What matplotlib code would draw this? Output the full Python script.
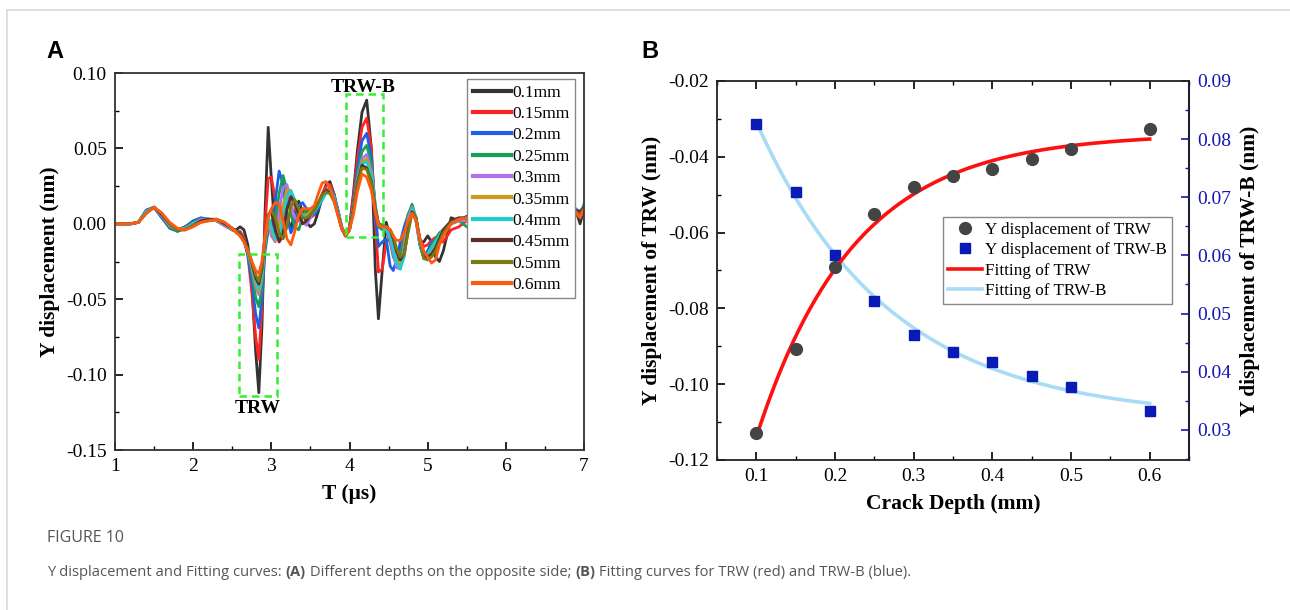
import numpy as np
import matplotlib
matplotlib.use("Agg")
import matplotlib.pyplot as plt
from matplotlib.lines import Line2D
from matplotlib.patches import Rectangle
from matplotlib.ticker import MultipleLocator

SERIF = "Liberation Serif"
SANS = "Liberation Sans"

# ---------------- panel A: time signals ----------------
depth_labels = ["0.1mm", "0.15mm", "0.2mm", "0.25mm", "0.3mm",
                "0.35mm", "0.4mm", "0.45mm", "0.5mm", "0.6mm"]
depth_colors = ["#333333", "#ff2424", "#1f5fe6", "#17a055", "#b070ee",
                "#c99a1c", "#1ccfcf", "#5c2e2a", "#7a7a12", "#ff5a12"]

t_us = [1.0, 1.1, 1.2, 1.3, 1.4, 1.5, 1.6, 1.7, 1.8, 1.9, 2.0, 2.1, 2.2, 2.3, 2.4, 2.5,
        2.55, 2.6, 2.65, 2.7, 2.75, 2.8, 2.84, 2.88, 2.92, 2.96,
        3.0, 3.05, 3.1, 3.15, 3.2, 3.25, 3.3, 3.35, 3.4, 3.45,
        3.5, 3.55, 3.6, 3.65, 3.7, 3.75, 3.8, 3.85, 3.9, 3.95,
        4.0, 4.05, 4.1, 4.16, 4.22, 4.28, 4.33, 4.37, 4.42, 4.47,
        4.52, 4.56, 4.6, 4.65, 4.7, 4.75, 4.8, 4.85, 4.9, 4.95,
        5.0, 5.05, 5.1, 5.15, 5.2, 5.3, 5.4, 5.5, 5.6, 6.0,
        6.5, 6.85, 6.9, 6.95, 7.0]

y_010 = [0, 0, 0, 0.001, 0.009, 0.011, 0.004, -0.002, -0.004, -0.002, 0.001, 0.003, 0.003, 0.002, 0.000, -0.004,
         -0.004, -0.002, -0.004, -0.014, -0.040, -0.085, -0.112, -0.068, 0.008, 0.064,
         0.030, -0.008, 0.002, 0.012, 0.006, -0.004, 0.008, 0.015, 0.008, 0.001,
         -0.002, 0.000, 0.008, 0.018, 0.026, 0.028, 0.020, 0.008, -0.003, -0.008,
         -0.002, 0.020, 0.048, 0.074, 0.082, 0.050, -0.030, -0.063, -0.030, 0.001,
         -0.010, -0.020, -0.024, -0.024, -0.012, 0.002, 0.010, 0.004, -0.012, -0.012,
         -0.008, -0.012, -0.022, -0.025, -0.018, 0.004, 0.002, 0.005, 0.000, 0.002,
         0.004, 0.008, 0.008, 0.000, 0.010]
y_015 = [0, 0, 0, 0.001, 0.008, 0.011, 0.005, -0.002, -0.004, -0.002, 0.001, 0.003, 0.003, 0.002, -0.001, -0.004,
         -0.005, -0.005, -0.009, -0.021, -0.045, -0.075, -0.090, -0.055, 0.000, 0.030,
         0.031, 0.016, -0.012, -0.008, 0.010, 0.018, 0.012, 0.006, 0.010, 0.008,
         0.004, 0.006, 0.012, 0.020, 0.025, 0.026, 0.020, 0.008, -0.003, -0.008,
         -0.003, 0.018, 0.042, 0.064, 0.070, 0.050, 0.002, -0.032, -0.030, -0.012,
         -0.010, -0.016, -0.020, -0.016, -0.008, 0.004, 0.010, 0.003, -0.010, -0.015,
         -0.014, -0.011, -0.009, -0.012, -0.012, -0.004, -0.002, 0.002, -0.001, 0.002,
         0.004, 0.010, 0.009, 0.006, 0.011]
y_020 = [0, 0, 0, 0.001, 0.009, 0.011, 0.004, -0.003, -0.005, -0.002, 0.002, 0.004, 0.003, 0.002, -0.001, -0.004,
         -0.005, -0.006, -0.011, -0.021, -0.038, -0.060, -0.069, -0.050, -0.018, -0.004,
         -0.004, 0.015, 0.035, 0.026, 0.005, -0.006, 0.000, 0.012, 0.014, 0.010,
         0.006, 0.006, 0.010, 0.016, 0.022, 0.024, 0.020, 0.010, -0.002, -0.008,
         -0.004, 0.014, 0.036, 0.055, 0.060, 0.044, 0.008, -0.015, -0.012, -0.010,
         -0.028, -0.031, -0.024, -0.012, -0.002, 0.006, 0.011, 0.002, -0.014, -0.022,
         -0.018, -0.012, -0.016, -0.012, -0.006, 0.000, 0.003, 0.004, 0.001, 0.002,
         0.004, 0.010, 0.009, 0.007, 0.012]
y_025 = [0, 0, 0, 0.001, 0.008, 0.011, 0.005, -0.002, -0.005, -0.003, 0.001, 0.003, 0.003, 0.002, -0.001, -0.004,
         -0.005, -0.007, -0.011, -0.019, -0.032, -0.049, -0.055, -0.042, -0.015, -0.002,
         0.002, 0.002, 0.020, 0.032, 0.022, 0.006, -0.002, -0.004, 0.004, 0.010,
         0.008, 0.008, 0.012, 0.016, 0.021, 0.023, 0.019, 0.009, -0.002, -0.008,
         -0.004, 0.012, 0.032, 0.048, 0.052, 0.040, 0.012, -0.002, -0.004, -0.004,
         -0.012, -0.022, -0.026, -0.022, -0.008, 0.006, 0.013, 0.004, -0.014, -0.023,
         -0.022, -0.014, -0.010, -0.006, -0.004, 0.000, 0.002, -0.002, -0.005, 0.002,
         0.004, 0.008, 0.007, 0.006, 0.013]
y_030 = [0, 0, 0, 0.001, 0.008, 0.011, 0.005, -0.001, -0.004, -0.003, 0.000, 0.003, 0.003, 0.002, -0.001, -0.004,
         -0.005, -0.007, -0.011, -0.018, -0.029, -0.042, -0.047, -0.036, -0.012, 0.002,
         -0.008, -0.012, 0.008, 0.024, 0.026, 0.014, 0.004, 0.002, 0.001, -0.001,
         0.004, 0.009, 0.013, 0.017, 0.021, 0.022, 0.018, 0.009, -0.002, -0.008,
         -0.004, 0.011, 0.029, 0.043, 0.046, 0.035, 0.012, 0.000, -0.002, -0.004,
         -0.010, -0.020, -0.029, -0.030, -0.014, 0.004, 0.011, 0.004, -0.012, -0.021,
         -0.020, -0.016, -0.012, -0.008, -0.004, 0.000, 0.002, 0.002, -0.002, 0.002,
         0.004, 0.010, 0.010, 0.008, 0.012]
y_035 = [0, 0, 0, 0.001, 0.008, 0.011, 0.006, -0.001, -0.004, -0.003, 0.000, 0.002, 0.003, 0.002, 0.000, -0.004,
         -0.005, -0.007, -0.011, -0.018, -0.028, -0.040, -0.045, -0.034, -0.010, 0.004,
         -0.004, -0.011, -0.002, 0.012, 0.023, 0.022, 0.012, 0.006, 0.006, 0.006,
         0.008, 0.010, 0.014, 0.018, 0.022, 0.022, 0.017, 0.008, -0.002, -0.008,
         -0.004, 0.011, 0.028, 0.041, 0.043, 0.033, 0.011, 0.000, -0.001, -0.003,
         -0.006, -0.014, -0.024, -0.028, -0.018, 0.002, 0.010, 0.004, -0.012, -0.022,
         -0.022, -0.018, -0.014, -0.008, -0.004, 0.001, 0.003, 0.003, 0.000, 0.002,
         0.004, 0.009, 0.008, 0.007, 0.011]
y_040 = [0, 0, 0, 0.001, 0.008, 0.011, 0.006, 0.000, -0.004, -0.003, 0.000, 0.002, 0.003, 0.003, 0.000, -0.003,
         -0.005, -0.007, -0.011, -0.018, -0.027, -0.038, -0.043, -0.032, -0.009, 0.005,
         -0.002, -0.010, -0.010, 0.004, 0.018, 0.022, 0.016, 0.010, 0.006, 0.004,
         0.006, 0.008, 0.012, 0.016, 0.020, 0.021, 0.017, 0.008, -0.002, -0.008,
         -0.004, 0.010, 0.027, 0.040, 0.041, 0.032, 0.011, 0.000, -0.001, -0.003,
         -0.008, -0.016, -0.026, -0.030, -0.022, -0.002, 0.010, 0.004, -0.012, -0.022,
         -0.020, -0.016, -0.012, -0.008, -0.004, 0.001, 0.003, 0.004, 0.000, 0.002,
         0.004, 0.010, 0.009, 0.008, 0.012]
y_045 = [0, 0, 0, 0.001, 0.007, 0.011, 0.006, 0.000, -0.004, -0.004, -0.001, 0.002, 0.003, 0.003, 0.000, -0.003,
         -0.005, -0.007, -0.011, -0.017, -0.026, -0.036, -0.040, -0.030, -0.008, 0.006,
         0.008, -0.004, -0.012, -0.006, 0.010, 0.018, 0.014, 0.006, 0.000, 0.002,
         0.006, 0.009, 0.014, 0.019, 0.022, 0.021, 0.016, 0.007, -0.003, -0.008,
         -0.004, 0.010, 0.027, 0.039, 0.037, 0.028, 0.010, 0.000, -0.001, -0.002,
         -0.004, -0.010, -0.018, -0.024, -0.020, -0.004, 0.008, 0.004, -0.010, -0.022,
         -0.022, -0.020, -0.016, -0.010, -0.004, 0.002, 0.004, 0.004, 0.001, 0.002,
         0.004, 0.009, 0.009, 0.008, 0.011]
y_050 = [0, 0, 0, 0.001, 0.007, 0.011, 0.007, 0.000, -0.004, -0.004, -0.001, 0.001, 0.002, 0.003, 0.001, -0.003,
         -0.005, -0.008, -0.012, -0.017, -0.025, -0.034, -0.038, -0.028, -0.008, 0.006,
         0.009, 0.004, -0.006, -0.010, -0.002, 0.012, 0.016, 0.010, 0.004, 0.004,
         0.006, 0.009, 0.014, 0.019, 0.021, 0.020, 0.015, 0.006, -0.003, -0.008,
         -0.004, 0.009, 0.026, 0.037, 0.036, 0.027, 0.009, 0.000, -0.001, -0.002,
         -0.004, -0.008, -0.016, -0.022, -0.020, -0.006, 0.007, 0.004, -0.010, -0.023,
         -0.024, -0.022, -0.018, -0.012, -0.006, 0.001, 0.003, 0.004, 0.001, 0.002,
         0.004, 0.009, 0.008, 0.006, 0.010]
y_060 = [0, 0, 0, 0.001, 0.007, 0.011, 0.007, 0.001, -0.003, -0.004, -0.002, 0.001, 0.002, 0.003, 0.001, -0.003,
         -0.006, -0.008, -0.012, -0.018, -0.025, -0.031, -0.033, -0.025, -0.008, 0.004,
         0.010, 0.014, 0.013, 0.002, -0.010, -0.014, -0.005, 0.006, 0.010, 0.010,
         0.010, 0.012, 0.020, 0.027, 0.028, 0.024, 0.016, 0.006, -0.003, -0.008,
         -0.004, 0.006, 0.021, 0.033, 0.031, 0.022, 0.008, -0.001, -0.002, -0.002,
         -0.004, -0.008, -0.011, -0.011, -0.006, 0.002, 0.007, 0.002, -0.010, -0.018,
         -0.022, -0.026, -0.024, -0.014, -0.008, 0.000, 0.003, 0.004, 0.001, 0.002,
         0.004, 0.009, 0.007, 0.004, 0.010]

signals = [y_010, y_015, y_020, y_025, y_030, y_035, y_040, y_045, y_050, y_060]

# ---------------- panel B: peak values vs crack depth ----------------
crack_depth = [0.1, 0.15, 0.2, 0.25, 0.3, 0.35, 0.4, 0.45, 0.5, 0.6]
trw_disp = [-0.1128, -0.0906, -0.0692, -0.0551, -0.0480, -0.0450, -0.0431, -0.0407, -0.0380, -0.0327]
trwb_disp = [0.0826, 0.0709, 0.0601, 0.0522, 0.0463, 0.0434, 0.0417, 0.0392, 0.0373, 0.0333]


def exp_fit(x, y):
    # y = y0 + a*exp(-x/tau), tau scanned, y0/a by least squares
    x = np.asarray(x)
    y = np.asarray(y)
    best = None
    for tau in np.linspace(0.02, 1.0, 981):
        M = np.column_stack([np.ones_like(x), np.exp(-x / tau)])
        coef = np.linalg.lstsq(M, y, rcond=None)[0]
        err = np.sum((M @ coef - y) ** 2)
        if best is None or err < best[0]:
            best = (err, tau, coef)
    _, tau, coef = best
    return lambda xx: coef[0] + coef[1] * np.exp(-np.asarray(xx) / tau)


TICK_FS = 14
LABEL_FS = 15.5

fig = plt.figure(figsize=(12.9, 6.1), dpi=100)

# page frame
fig.add_artist(Line2D([7 / 1290, 1], [1 - 10 / 610, 1 - 10 / 610], color="#d9d9d9", lw=1.2))
fig.add_artist(Line2D([7 / 1290, 7 / 1290], [0, 1 - 10 / 610], color="#d9d9d9", lw=1.2))

# ---- panel A ----
ax = fig.add_axes([115 / 1290, 1 - 450 / 610, 469 / 1290, 377 / 610])
for y, lab, col in zip(signals, depth_labels, depth_colors):
    ax.plot(t_us, y, color=col, lw=2.0, label=lab, solid_joinstyle="round")

ax.add_patch(Rectangle((2.58, -0.114), 0.49, 0.094, fill=False, ec="#33ee33",
                       ls=(0, (3, 2)), lw=1.8, zorder=5))
ax.add_patch(Rectangle((3.96, -0.0087), 0.47, 0.0947, fill=False, ec="#33ee33",
                       ls=(0, (3, 2)), lw=1.8, zorder=5))
ax.text(2.83, -0.1225, "TRW", family=SERIF, weight="bold", fontsize=14,
        ha="center", va="center")
ax.text(4.17, 0.0905, "TRW-B", family=SERIF, weight="bold", fontsize=14,
        ha="center", va="center")

ax.set_xlim(1, 7)
ax.set_ylim(-0.15, 0.10)
ax.set_xticks([1, 2, 3, 4, 5, 6, 7])
ax.set_yticks([-0.15, -0.10, -0.05, 0.0, 0.05, 0.10])
ax.set_yticklabels(["-0.15", "-0.10", "-0.05", "0.00", "0.05", "0.10"])
ax.xaxis.set_minor_locator(MultipleLocator(0.5))
ax.yaxis.set_minor_locator(MultipleLocator(0.025))
ax.tick_params(which="major", direction="in", length=6, width=1.2, labelsize=TICK_FS, pad=6)
ax.tick_params(which="minor", direction="in", length=3, width=1)
for lab in ax.get_xticklabels() + ax.get_yticklabels():
    lab.set_family(SERIF)
for s in ax.spines.values():
    s.set_linewidth(1.3)
    s.set_color("#333333")
ax.set_xlabel("T (μs)", family=SERIF, weight="bold", fontsize=LABEL_FS, labelpad=6)
ax.set_ylabel("Y displacement (nm)", family=SERIF, weight="bold", fontsize=LABEL_FS, labelpad=4)

leg = ax.legend(loc="upper right", bbox_to_anchor=(0.981, 0.983), frameon=True,
                fancybox=False, edgecolor="#888888", framealpha=1,
                prop={"family": SERIF, "size": 12.5}, handlelength=2.2,
                handletextpad=0.1, labelspacing=0.3, borderpad=0.3,
                borderaxespad=0)
leg.get_frame().set_linewidth(1.0)
for h in leg.get_lines():
    h.set_linewidth(3)

fig.text(55 / 1290, 1 - 52 / 610, "A", family=SANS, weight="bold", fontsize=17,
         ha="center", va="center")

# ---- panel B ----
bx = fig.add_axes([717 / 1290, 1 - 460 / 610, 472 / 1290, 379 / 610])
bx2 = bx.twinx()

xs = np.linspace(min(crack_depth), max(crack_depth), 200)
fit_trw = exp_fit(crack_depth, trw_disp)
fit_trwb = exp_fit(crack_depth, trwb_disp)

h1, = bx.plot(crack_depth, trw_disp, "o", color="#444444", ms=8.5, ls="none",
              label="Y displacement of TRW", zorder=4)
h3, = bx.plot(xs, fit_trw(xs), color="#ff1010", lw=2.6, label="Fitting of TRW", zorder=3)
h4, = bx2.plot(xs, fit_trwb(xs), color="#a8dcf6", lw=2.6, label="Fitting of TRW-B", zorder=2)
h2, = bx2.plot(crack_depth, trwb_disp, "s", color="#0a1ab4", ms=7, ls="none",
               label="Y displacement of TRW-B", zorder=4)

bx.set_xlim(0.05, 0.65)
bx.set_ylim(-0.12, -0.02)
bx2.set_ylim(0.0248, 0.09)
bx.set_xticks([0.1, 0.2, 0.3, 0.4, 0.5, 0.6])
bx.set_yticks([-0.12, -0.10, -0.08, -0.06, -0.04, -0.02])
bx.set_yticklabels(["-0.12", "-0.10", "-0.08", "-0.06", "-0.04", "-0.02"])
bx2.set_yticks([0.03, 0.04, 0.05, 0.06, 0.07, 0.08, 0.09])
bx.xaxis.set_minor_locator(MultipleLocator(0.05))
bx.yaxis.set_minor_locator(MultipleLocator(0.01))
bx2.yaxis.set_minor_locator(MultipleLocator(0.005))
bx.tick_params(which="major", direction="in", length=6, width=1.2, labelsize=TICK_FS, pad=6)
bx.tick_params(which="minor", direction="in", length=3, width=1)
bx.tick_params(axis="x", which="both", top=True, labeltop=False)
bx2.tick_params(which="major", direction="in", length=6, width=1.2, labelsize=TICK_FS,
                colors="#1515b0", pad=6)
bx2.tick_params(which="minor", direction="in", length=3, width=1, colors="#1515b0")
for lab in bx.get_xticklabels() + bx.get_yticklabels() + bx2.get_yticklabels():
    lab.set_family(SERIF)
for s in bx.spines.values():
    s.set_linewidth(1.3)
    s.set_color("#222222")
bx2.spines["right"].set_color("#1515b0")
bx2.spines["right"].set_linewidth(1.5)
for k in ("left", "top", "bottom"):
    bx2.spines[k].set_visible(False)

bx.set_xlabel("Crack Depth (mm)", family=SERIF, weight="bold", fontsize=LABEL_FS, labelpad=6)
bx.set_ylabel("Y displacement of TRW (nm)", family=SERIF, weight="bold", fontsize=LABEL_FS,
              labelpad=4)
bx2.set_ylabel("Y displacement of TRW-B (nm)", family=SERIF, weight="bold", fontsize=LABEL_FS,
               labelpad=6)

legb = bx.legend(handles=[h1, h2, h3, h4], loc="upper left",
                 bbox_to_anchor=((943 - 717) / 472, (460 - 217) / 379),
                 frameon=True, fancybox=False, edgecolor="#888888", framealpha=1,
                 prop={"family": SERIF, "size": 12.3}, handlelength=2.0,
                 handletextpad=0.15, labelspacing=0.25, borderpad=0.3, borderaxespad=0)
legb.get_frame().set_linewidth(1.0)
bx.set_zorder(bx2.get_zorder() + 1)
bx.patch.set_visible(False)
legb.set_zorder(10)

fig.text(650 / 1290, 1 - 52 / 610, "B", family=SANS, weight="bold", fontsize=17,
         ha="center", va="center")

# ---- caption ----
fig.text(47 / 1290, 1 - 538 / 610, "FIGURE 10", family="Open Sans", fontsize=11.5,
         color="#555555", va="center")

pieces = [("Y displacement and Fitting curves: ", "normal"), ("(A)", "bold"),
          (" Different depths on the opposite side; ", "normal"), ("(B)", "bold"),
          (" Fitting curves for TRW (red) and TRW-B (blue).", "normal")]
renderer = fig.canvas.get_renderer()
x0 = 47
for txt, w in pieces:
    tt = fig.text(x0 / 1290, 1 - 572 / 610, txt, family="Open Sans", fontsize=10.6,
                  weight=w, color="#555555", va="center")
    x0 += tt.get_window_extent(renderer).width

fig.savefig("out.png", dpi=100)
